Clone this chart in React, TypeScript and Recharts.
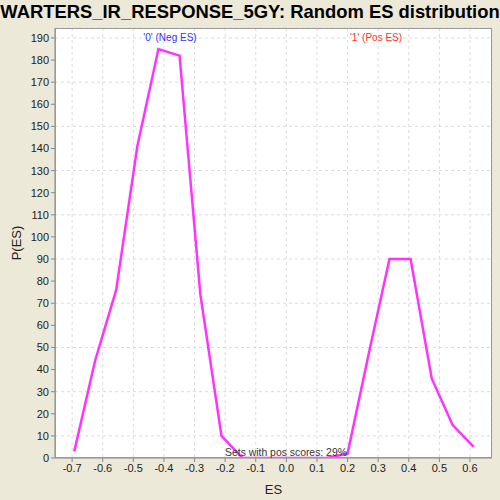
import { LineChart, Line, XAxis, YAxis, CartesianGrid, Label } from 'recharts';

const esValues = [-0.693, -0.625, -0.556, -0.487, -0.418, -0.349, -0.281, -0.212, -0.143, -0.075, -0.006, 0.063, 0.131, 0.2, 0.269, 0.337, 0.406, 0.475, 0.543, 0.612];
const pValues = [3, 44, 76, 141, 185, 182, 74, 10, 0, 0, 0, 0, 0, 2, 47, 90, 90, 36, 15, 5];
const xTicks = [-0.7, -0.6, -0.5, -0.4, -0.3, -0.2, -0.1, 0, 0.1, 0.2, 0.3, 0.4, 0.5, 0.6];
const yTicks = [0, 10, 20, 30, 40, 50, 60, 70, 80, 90, 100, 110, 120, 130, 140, 150, 160, 170, 180, 190];

const chartData = esValues.map((es, i) => ({ es, p: pValues[i] }));

const font = 'Liberation Sans, Arial, sans-serif';

const App = () => {
  return (
    <div style={{ position: 'absolute', left: 0, top: 0, width: 500, height: 500, background: '#ECE9D8', fontFamily: font }}>
      <div style={{ position: 'absolute', top: 1, left: 0, width: 500, textAlign: 'center', fontSize: 18.4, fontWeight: 'bold', color: '#000', whiteSpace: 'nowrap' }}>
        WARTERS_IR_RESPONSE_5GY: Random ES distribution
      </div>
      <LineChart width={500} height={500} data={chartData} margin={{ top: 28, right: 8, left: 0, bottom: 0 }}>
        <CartesianGrid stroke="#dcdcdc" strokeDasharray="3 3" fill="#ffffff" />
        <XAxis
          dataKey="es"
          type="number"
          domain={[-0.756, 0.672]}
          ticks={xTicks}
          allowDataOverflow
          height={42}
          tickFormatter={(v) => v.toFixed(1)}
          tick={{ fontSize: 11, fill: '#222', fontFamily: font }}
          tickSize={4}
          stroke="#888"
        >
          <Label value="ES" position="insideBottom" offset={6} style={{ fontSize: 13, fill: '#222', fontFamily: font }} />
        </XAxis>
        <YAxis
          type="number"
          domain={[0, 194.5]}
          ticks={yTicks}
          allowDataOverflow
          width={55}
          tick={{ fontSize: 11, fill: '#222', fontFamily: font }}
          tickSize={4}
          stroke="#888"
        >
          <Label value="P(ES)" angle={-90} position="insideLeft" offset={16} style={{ fontSize: 13, fill: '#222', fontFamily: font, textAnchor: 'middle' }} />
        </YAxis>
        <Line
          type="linear"
          dataKey="p"
          stroke="#FF33FF"
          strokeWidth={2.5}
          dot={false}
          isAnimationActive={false}
        />
      </LineChart>
      <div style={{ position: 'absolute', left: 55, top: 28, width: 437, height: 430, border: '1px solid #999', boxSizing: 'border-box', pointerEvents: 'none' }} />
      <div style={{ position: 'absolute', left: 120, top: 32, width: 100, textAlign: 'center', fontSize: 10, color: '#3333FF' }}>'0' (Neg ES)</div>
      <div style={{ position: 'absolute', left: 326, top: 32, width: 100, textAlign: 'center', fontSize: 10, color: '#FF3333' }}>'1' (Pos ES)</div>
      <div style={{ position: 'absolute', left: 186, top: 447, width: 200, textAlign: 'center', fontSize: 10.4, color: '#333' }}>Sets with pos scores: 29%</div>
    </div>
  );
};

export default App;
